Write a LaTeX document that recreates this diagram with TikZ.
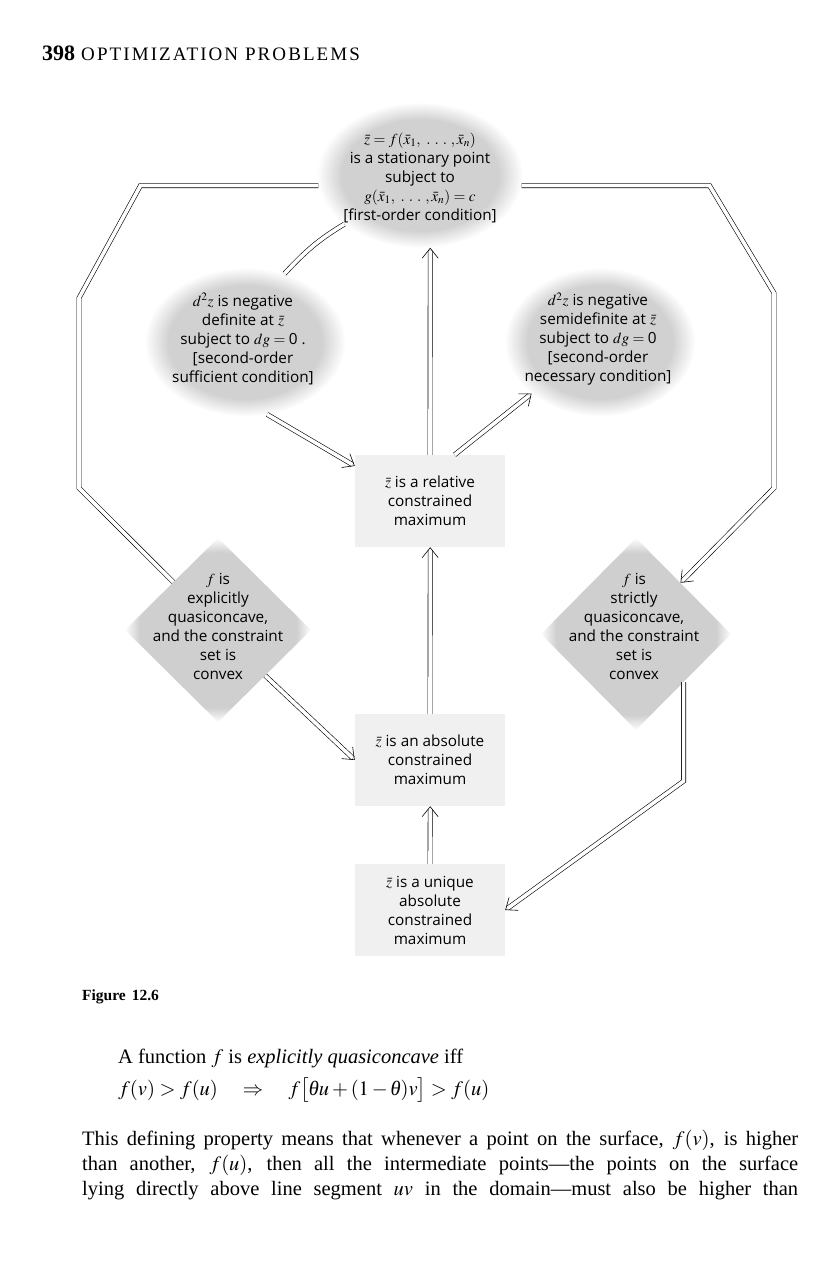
\documentclass[tikz,border=0pt]{standalone}
\usepackage{mathptmx}
\usepackage{fontspec}
\setmainfont{Liberation Serif}
\setsansfont{Open Sans}
\usetikzlibrary{fadings,shapes.geometric,arrows.meta,calc}
\pgfdeclareradialshading{fuzzysh}{\pgfpointorigin}{color(0bp)=(white); color(19bp)=(white); color(25bp)=(black); color(50bp)=(black)}
\pgfdeclarefading{fuzzy}{\pgfuseshading{fuzzysh}}
\pgfdeclareradialshading{fuzzydsh}{\pgfpointorigin}{color(0bp)=(white); color(21bp)=(white); color(25bp)=(black); color(50bp)=(black)}
\pgfdeclarefading{fuzzyd}{\pgfuseshading{fuzzydsh}}
\newcommand{\tipto}[2]{\draw[tipv] ($(#2)!6pt!(#1)$) -- (#2);}
\begin{document}
\begin{tikzpicture}[x=1pt,y=-1pt,
  blob/.style={ellipse, fill=black!18, path fading=fuzzy, inner sep=0pt},
  dia/.style={diamond, fill=black!19, path fading=fuzzyd, inner sep=0pt},
  box/.style={rectangle, fill=black!6, inner sep=0pt, minimum width=150pt, minimum height=92pt, align=center, font=\sffamily\fontsize{15.3}{19}\selectfont},
  txt/.style={align=center, inner sep=0pt, font=\sffamily\fontsize{15.3}{19}\selectfont},
  dbl/.style={draw=black, double=white, double distance=3.6pt, line width=0.6pt},
  shaft/.style={dbl, shorten >=2.8pt},
  tipv/.style={draw=white, line width=0.3pt, -{Straight Barb[color=black, length=10pt, width=16pt, line width=0.6pt]}},
  body/.style={inner sep=0pt, font=\fontsize{20.5}{25}\selectfont}]
\useasboundingbox (0,0) rectangle (840,1274);
\fill[white] (0,0) rectangle (840,1274);

% header
\node[anchor=base west, inner sep=0pt] (hdr) at (42,60)
  {\fontsize{22}{22}\selectfont\bfseries 398\hspace{6pt}\mdseries\fontsize{19}{19}\selectfont\addfontfeatures{LetterSpace=11}OPTIMIZATION PROBLEMS};

% blobs
\node[blob, minimum width=205pt, minimum height=145pt] (top) at (420,175) {};
\node[blob, minimum width=200pt, minimum height=148pt] (lel) at (245,342) {};
\node[blob, minimum width=190pt, minimum height=148pt] (rel) at (600,342) {};
\node[dia, minimum width=186pt, minimum height=184pt] (ldia) at (218,630) {};
\node[dia, minimum width=190pt, minimum height=192pt] (rdia) at (636,634) {};

% texts
\node[txt] (topt) at (420,178) {$\bar z = f(\bar x_1,\ .\ .\ .\ ,\bar x_n)$\\is a stationary point\\subject to\\$g(\bar x_1,\ .\ .\ .\ ,\bar x_n) = c$\\{[}first-order condition{]}};
\node[txt] (lelt) at (243,339) {$d^2z$ is negative\\definite at $\bar z$\\subject to $dg ={}$0 .\\{[}second-order\\sufficient condition{]}};
\node[txt] (relt) at (598,339) {$d^2z$ is negative\\semidefinite at $\bar z$\\subject to $dg ={}$0\\{[}second-order\\necessary condition{]}};
\node[txt] (ldiat) at (218,626) {$f$ is\\explicitly\\quasiconcave,\\and the constraint\\set is\\convex};
\node[txt] (rdiat) at (634,626) {$f$ is\\strictly\\quasiconcave,\\and the constraint\\set is\\convex};

\node[box] (relmax) at (430,501) {$\bar z$ is a relative\\constrained\\maximum};
\node[box] (absmax) at (430,760) {$\bar z$ is an absolute\\constrained\\maximum};
\node[box] (uniq) at (430,910) {$\bar z$ is a unique\\absolute\\constrained\\maximum};

% helper coordinates
\coordinate (a3) at ([xshift=0.2pt]relmax.north |- top.south);
\coordinate (a4) at ([xshift=0.2pt]relmax.south);
\coordinate (a5) at ([xshift=0.2pt]absmax.south);
\coordinate (r3) at (774,488);
\coordinate (r4) at ($(rdia.south east)+(0,99)$);

% connectors
\draw[dbl] (top.213) to[out=211, in=47] (lel.60);
\draw[dbl] (top.186) -- ++(-178,0) -- (79,298) -- (79,488) -- (ldia.133);

\draw[shaft] (lel.-73) -- (relmax.155);      \tipto{lel.-73}{relmax.155}
\draw[shaft] (relmax.62) -- (rel.217);       \tipto{relmax.62}{rel.217}
\draw[shaft] (relmax.north) -- (a3);         \tipto{relmax.north}{a3}
\draw[shaft] (absmax.north) -- (a4);         \tipto{absmax.north}{a4}
\draw[shaft] (uniq.north) -- (a5);           \tipto{uniq.north}{a5}
\draw[shaft] (ldia.-44) -- (absmax.west);    \tipto{ldia.-44}{absmax.west}
\draw[shaft] (top.-6) -- ++(188,0) -- (774,293) -- (r3) -- (rdia.49); \tipto{r3}{rdia.49}
\draw[shaft] (rdia.south east) -- (r4) -- (uniq.east); \tipto{r4}{uniq.east}

% caption and text
\node[anchor=base west, inner sep=0pt] (fig) at (82,1000)
  {\fontsize{15.5}{15.5}\selectfont\bfseries Figure\hspace{6pt}12.6};
\node[body, anchor=base west] (def) at (118,1063)
  {A function $f$ is \textit{explicitly quasiconcave} iff};
\node[body, anchor=base west] (eq) at (118,1095)
  {$f(v) > f(u) \quad\Rightarrow\quad f\bigl[\mbox{\itshape θ}u + (1-\mbox{\itshape θ})v\bigr] > f(u)$};
\node[body, anchor=north west, align=left] (para) at (82,1130)
  {\makebox[716pt][s]{This defining property means that whenever a point on the surface, $f(v)$, is higher}\\
   \makebox[716pt][s]{than another, $f(u)$, then all the intermediate points---the points on the surface}\\
   \makebox[716pt][s]{lying directly above line segment $uv$ in the domain---must also be higher than}};
\end{tikzpicture}
\end{document}
